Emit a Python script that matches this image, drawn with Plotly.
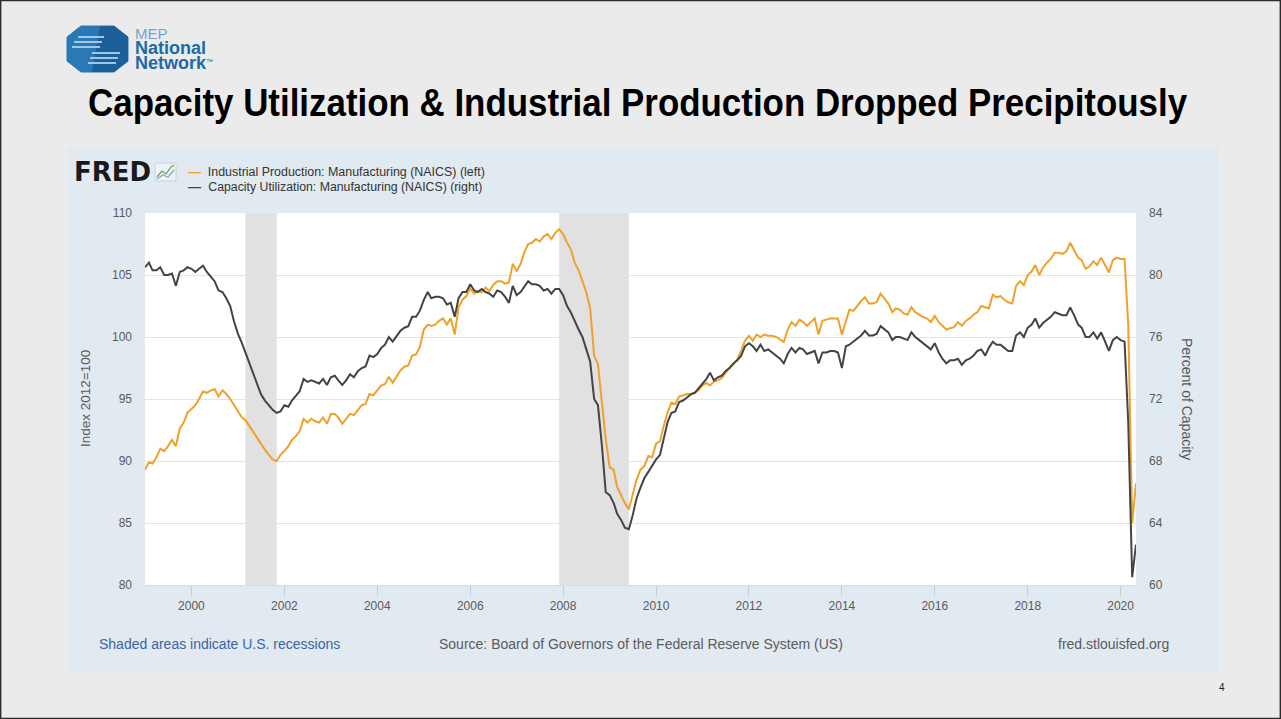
import plotly.graph_objects as go
import pandas as pd

# ---------------- data (monthly, Jan 1999 - May 2020) ----------------
start_month = "1999-01-01"
ip_manuf = [
    # 1999
    89.3, 89.9, 89.8, 90.3, 91.0, 90.8, 91.2, 91.7, 91.2, 92.6, 93.1, 93.9,
    # 2000
    94.2, 94.5, 95.0, 95.6, 95.5, 95.7, 95.8, 95.2, 95.7, 95.4, 95.0, 94.5,
    # 2001
    94.0, 93.5, 93.3, 92.8, 92.3, 91.8, 91.3, 90.9, 90.5, 90.1, 90.0, 90.5,
    # 2002
    90.8, 91.2, 91.7, 92.0, 92.4, 93.4, 93.1, 93.4, 93.2, 93.1, 93.5, 93.0,
    # 2003
    93.8, 93.8, 93.5, 93.0, 93.4, 93.8, 93.7, 94.1, 94.5, 94.6, 95.4, 95.3,
    # 2004
    95.7, 96.1, 96.2, 96.8, 96.3, 96.8, 97.3, 97.6, 97.7, 98.5, 98.6, 99.2,
    # 2005
    100.6, 101.0, 100.9, 101.0, 101.3, 101.5, 101.0, 101.5, 100.2, 102.4, 103.0, 103.3,
    # 2006
    103.9, 103.5, 103.7, 103.6, 104.0, 103.7, 104.2, 104.5, 104.5, 104.3, 104.4, 105.9,
    # 2007
    105.3, 105.9, 106.8, 107.5, 107.6, 107.9, 107.7, 108.1, 108.3, 107.9, 108.4, 108.7,
    # 2008
    108.3, 107.6, 107.1, 106.0, 105.4, 104.5, 103.6, 102.3, 98.5, 97.8, 94.9, 91.8,
    # 2009
    89.5, 89.3, 87.9, 87.2, 86.6, 86.1, 87.3, 88.5, 89.3, 89.6, 90.4, 90.3,
    # 2010
    91.4, 91.6, 92.8, 93.9, 94.7, 94.6, 95.2, 95.3, 95.4, 95.4, 95.5, 95.7,
    # 2011
    96.1, 96.3, 96.1, 96.4, 96.5, 96.7, 97.1, 97.5, 97.8, 98.2, 98.9, 99.7,
    # 2012
    100.1, 99.7, 100.2, 100.0, 100.2, 100.1, 100.1, 100.0, 99.8, 99.6, 100.6, 101.2,
    # 2013
    100.9, 101.4, 101.2, 100.9, 101.2, 101.5, 100.2, 101.3, 101.4, 101.5, 101.5, 101.5,
    # 2014
    100.2, 101.3, 102.2, 102.1, 102.5, 102.9, 103.2, 102.7, 102.7, 102.8, 103.5, 103.1,
    # 2015
    102.7, 102.0, 102.3, 102.2, 101.9, 101.8, 102.4, 102.0, 101.8, 101.6, 101.5, 101.2,
    # 2016
    101.7, 101.2, 100.9, 100.6, 100.7, 100.8, 101.2, 100.9, 101.3, 101.5, 101.8, 102.0,
    # 2017
    102.5, 102.4, 102.3, 103.4, 103.2, 103.3, 103.0, 102.8, 102.7, 104.1, 104.5, 104.2,
    # 2018
    105.0, 105.3, 105.8, 105.0, 105.6, 106.0, 106.3, 106.8, 106.8, 106.7, 106.9, 107.6,
    # 2019
    107.0, 106.4, 106.2, 105.5, 105.7, 106.1, 105.8, 106.4, 105.8, 105.2, 106.2, 106.4,
    # 2020
    106.3, 106.3, 101.0, 85.0, 88.2,
]
cu_manuf = [
    # 1999
    80.5, 80.8, 80.3, 80.3, 80.5, 80.0, 80.0, 80.1, 79.3, 80.2, 80.3, 80.5,
    # 2000
    80.4, 80.2, 80.4, 80.6, 80.2, 79.9, 79.6, 79.0, 78.9, 78.5, 78.0, 77.0,
    # 2001
    76.2, 75.6, 75.0, 74.3, 73.6, 72.9, 72.3, 71.9, 71.6, 71.3, 71.1, 71.2,
    # 2002
    71.6, 71.5, 71.9, 72.2, 72.5, 73.3, 73.1, 73.2, 73.1, 73.0, 73.3, 72.9,
    # 2003
    73.4, 73.5, 73.2, 72.9, 73.2, 73.6, 73.4, 73.8, 74.0, 74.1, 74.8, 74.7,
    # 2004
    74.9, 75.3, 75.5, 76.0, 75.7, 76.1, 76.4, 76.6, 76.7, 77.3, 77.3, 77.7,
    # 2005
    78.4, 78.9, 78.5, 78.6, 78.6, 78.5, 78.1, 78.2, 77.3, 78.5, 78.9, 78.9,
    # 2006
    79.4, 79.0, 78.9, 79.1, 78.9, 78.8, 78.6, 79.0, 78.9, 78.6, 78.2, 79.3,
    # 2007
    78.7, 78.9, 79.2, 79.6, 79.4, 79.4, 79.3, 79.0, 79.1, 78.8, 79.1, 79.1,
    # 2008
    78.7, 78.0, 77.6, 77.0, 76.5, 76.0, 75.2, 74.4, 72.0, 71.6, 69.0, 66.0,
    # 2009
    65.8, 65.3, 64.6, 64.2, 63.7, 63.6, 64.5, 65.6, 66.3, 66.9, 67.3, 67.7,
    # 2010
    68.1, 68.4, 69.4, 70.5, 71.1, 71.2, 71.8, 71.9, 72.1, 72.3, 72.4, 72.7,
    # 2011
    73.0, 73.3, 73.7, 73.2, 73.4, 73.5, 73.8, 74.0, 74.3, 74.5, 74.8, 75.4,
    # 2012
    75.6, 75.4, 75.1, 75.5, 75.1, 75.2, 75.0, 74.8, 74.6, 74.3, 74.9, 75.3,
    # 2013
    75.0, 75.3, 75.2, 74.9, 75.0, 75.1, 74.3, 75.0, 75.0, 75.1, 75.1, 75.0,
    # 2014
    74.0, 75.4, 75.5, 75.7, 75.9, 76.1, 76.4, 76.1, 76.1, 76.2, 76.7, 76.5,
    # 2015
    76.3, 75.8, 76.0, 76.0, 75.9, 75.8, 76.3, 76.0, 75.8, 75.6, 75.4, 75.2,
    # 2016
    75.6, 75.0, 74.6, 74.3, 74.5, 74.5, 74.6, 74.2, 74.5, 74.6, 74.8, 75.1,
    # 2017
    75.2, 74.8, 75.3, 75.7, 75.5, 75.5, 75.3, 75.1, 75.1, 76.1, 76.3, 76.0,
    # 2018
    76.6, 76.8, 77.2, 76.6, 76.9, 77.1, 77.3, 77.6, 77.5, 77.4, 77.4, 77.9,
    # 2019
    77.4, 76.8, 76.6, 76.0, 76.0, 76.3, 75.9, 76.3, 75.7, 75.1, 75.8, 76.0,
    # 2020
    75.8, 75.7, 70.5, 60.5, 62.6,
]
recession_starts = ["2001-03-01", "2007-12-01"]
recession_ends = ["2001-11-01", "2009-06-01"]
left_ticks = [80, 85, 90, 95, 100, 105, 110]
right_ticks = [60, 64, 68, 72, 76, 80, 84]
year_ticks = ["2000", "2002", "2004", "2006", "2008", "2010", "2012",
              "2014", "2016", "2018", "2020"]

series_names = ["Industrial Production: Manufacturing (NAICS) (left)",
                "Capacity Utilization: Manufacturing (NAICS) (right)"]
title_text = "Capacity Utilization & Industrial Production Dropped Precipitously"

# ---------------- styling ----------------
W, H = 1281, 719
ORANGE = "#efa12d"
DARK = "#444444"
PAGE_BG = "#ebebeb"
PANEL_BG = "#e1e9f1"
TICK_COL = "#5a5a5a"
SANS = "Liberation Sans, Arial, sans-serif"


def px(x):
    return x / W


def py(y):
    return 1 - y / H


dates = pd.date_range(start_month, periods=len(ip_manuf), freq="MS")

fig = go.Figure()
fig.add_trace(go.Scatter(x=dates, y=ip_manuf, mode="lines", name=series_names[0],
                         line=dict(color=ORANGE, width=2), yaxis="y"))
fig.add_trace(go.Scatter(x=dates, y=cu_manuf, mode="lines", name=series_names[1],
                         line=dict(color=DARK, width=2), yaxis="y2"))

shapes = []
# panel background
shapes.append(dict(type="rect", xref="paper", yref="paper", x0=px(67), x1=px(1219),
                   y0=py(672), y1=py(147), fillcolor=PANEL_BG, line=dict(width=0),
                   layer="below"))
# plot white area
shapes.append(dict(type="rect", xref="paper", yref="paper", x0=px(145), x1=px(1136),
                   y0=py(585), y1=py(213), fillcolor="white", line=dict(width=0),
                   layer="below"))
# recession shading
for s, e in zip(recession_starts, recession_ends):
    shapes.append(dict(type="rect", xref="x", yref="y domain", x0=s, x1=e, y0=0, y1=1,
                       fillcolor="#e1e1e1", line=dict(width=0), layer="below"))
# page border
shapes.append(dict(type="rect", xref="paper", yref="paper", x0=0.0005, x1=0.9995,
                   y0=0.0007, y1=0.9993, line=dict(color="#2b2b2b", width=1.5)))
# MEP logo octagon
ox0, ox1, oy0, oy1 = 67, 128, 26, 72
cx = 14
cy = 11
oct_path = (f"M {px(ox0+cx)},{py(oy0)} L {px(ox1-cx)},{py(oy0)} L {px(ox1)},{py(oy0+cy)} "
            f"L {px(ox1)},{py(oy1-cy)} L {px(ox1-cx)},{py(oy1)} L {px(ox0+cx)},{py(oy1)} "
            f"L {px(ox0)},{py(oy1-cy)} L {px(ox0)},{py(oy0+cy)} Z")
shapes.append(dict(type="path", xref="paper", yref="paper", path=oct_path,
                   fillcolor="#2a78b4", line=dict(color="#2a78b4", width=1)))
right_half = (f"M {px(100)},{py(oy0)} L {px(ox1-cx)},{py(oy0)} L {px(ox1)},{py(oy0+cy)} "
              f"L {px(ox1)},{py(oy1-cy)} L {px(ox1-cx)},{py(oy1)} L {px(92)},{py(oy1)} Z")
shapes.append(dict(type="path", xref="paper", yref="paper", path=right_half,
                   fillcolor="#1d5f98", line=dict(width=0)))
for yy, xa, xb in [(37, 78, 104), (42, 74, 102), (47, 72, 100), (53, 92, 120), (58, 90, 118), (63, 88, 116)]:
    shapes.append(dict(type="line", xref="paper", yref="paper", x0=px(xa), x1=px(xb),
                       y0=py(yy), y1=py(yy), line=dict(color="#9cc9ea", width=2)))
# FRED icon
shapes.append(dict(type="rect", xref="paper", yref="paper", x0=px(155), x1=px(176),
                   y0=py(181), y1=py(163), fillcolor="#eef2f5", line=dict(color="#c9d3dc", width=1)))
shapes.append(dict(type="path", xref="paper", yref="paper",
                   path=f"M {px(157)},{py(177)} L {px(162)},{py(171)} L {px(166)},{py(174)} L {px(171)},{py(167)} L {px(174)},{py(165)}",
                   line=dict(color="#6b9e5a", width=1.2)))
shapes.append(dict(type="path", xref="paper", yref="paper",
                   path=f"M {px(157)},{py(179)} L {px(163)},{py(175)} L {px(168)},{py(177)} L {px(174)},{py(170)}",
                   line=dict(color="#7fa7cf", width=1.2)))


def ann(text, x, y, size, color, anchor="left", family=SANS, angle=0, align="center"):
    return dict(text=text, x=px(x), y=py(y), xref="paper", yref="paper", showarrow=False,
                xanchor=anchor, yanchor="middle", textangle=angle, align=align,
                font=dict(family=family, size=size, color=color))


logo_text = ("<span style='font-size:15px;color:#6ea6d3'>MEP</span><br>"
             "<span style='font-size:18px'><b>National</b></span><br>"
             "<span style='font-size:18px'><b>Network</b></span>"
             "<sup><span style='font-size:7px'>™</span></sup>")

annotations = [
    # title (rendered narrow in post script)
    ann(f"<b>{title_text}</b>", 637.5, 104, 34, "#000000", "center"),
    # logo text (one block)
    ann(logo_text, 133, 49, 11.5, "#1d6aa5", "left", align="left"),
    # FRED word
    ann("<b>FRED</b>", 72, 172, 26, "#1a1a1a", family="DejaVu Sans, sans-serif"),
    # legend entries
    ann("<b>—</b>", 186, 171, 13, ORANGE),
    ann("<b>—</b>", 186, 186, 13, DARK),
    ann(series_names[0], (208 + 485) / 2, 172, 12.5, "#333333", "center"),
    ann(series_names[1], (208 + 482) / 2, 187, 12.5, "#333333", "center"),
    # axis titles
    ann("Index 2012=100", 85, 399, 13.5, TICK_COL, "center", angle=-90),
    ann("Percent of Capacity", 1187, 399, 14, TICK_COL, "center", angle=90),
    # footer
    ann("Shaded areas indicate U.S. recessions", 97, 644, 14, "#3b66a3"),
    ann("Source: Board of Governors of the Federal Reserve System (US)", 437, 644, 14, "#5c5c5c"),
    ann("fred.stlouisfed.org", 1171, 644, 14, "#5c5c5c", "right"),
    ann("4", 1222, 687, 10, "#222222", "center"),
]

fig.update_layout(
    width=W, height=H,
    autosize=False,
    margin=dict(l=0, r=0, t=0, b=0, pad=0, autoexpand=False),
    paper_bgcolor=PAGE_BG,
    plot_bgcolor="rgba(0,0,0,0)",
    showlegend=False,
    shapes=shapes,
    annotations=annotations,
    xaxis=dict(domain=[px(145), px(1136)], type="date", automargin=False,
               range=[dates[0], dates[-1]],
               tickvals=[f"{y}-01-01" for y in year_ticks], ticktext=year_ticks,
               showgrid=False, zeroline=False, showline=True, linecolor="#d5dce3",
               ticks="outside", ticklen=10, tickcolor="#c6ced6", tickwidth=1,
               tickfont=dict(family=SANS, size=12, color=TICK_COL)),
    yaxis=dict(domain=[py(585), py(213)], range=[80, 110], tickvals=left_ticks,
               automargin=False,
               showgrid=True, gridcolor="#e4e4e4", gridwidth=1, zeroline=False,
               ticks="", ticklabelstandoff=12,
               tickfont=dict(family=SANS, size=12, color=TICK_COL)),
    yaxis2=dict(overlaying="y", side="right", range=[60, 84], tickvals=right_ticks,
                automargin=False,
                showgrid=False, zeroline=False, ticks="", ticklabelstandoff=12,
                tickfont=dict(family=SANS, size=12, color=TICK_COL)),
)

post_js = """
document.body.style.margin = '0';
document.body.style.overflow = 'hidden';
var fits = [['Capacity Utilization &', 1099, '38px'], ['Industrial Production: Manufacturing', 277, null],
            ['Capacity Utilization: Manufacturing', 274, null]];
document.querySelectorAll('text.annotation-text').forEach(function(t){
  var s = t.textContent || '';
  fits.forEach(function(f){
    if (s.indexOf(f[0]) === 0) {
      if (f[2]) { t.style.fontSize = f[2]; }
      t.setAttribute('textLength', f[1]);
      t.setAttribute('lengthAdjust', 'spacingAndGlyphs');
    }
  });
});
"""

fig.write_html("out.html", post_script=post_js,
               config={"displayModeBar": False, "responsive": False})
